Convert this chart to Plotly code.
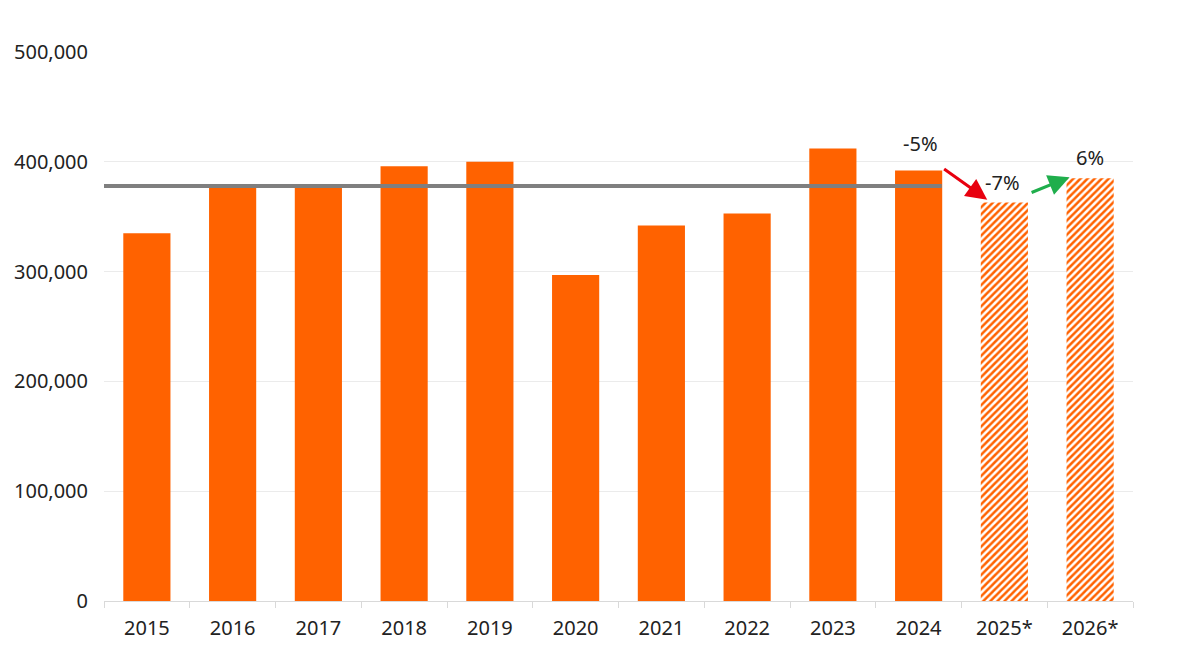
import plotly.graph_objects as go

years = ['2015', '2016', '2017', '2018', '2019', '2020', '2021', '2022',
         '2023', '2024', '2025*', '2026*']
sales = [335000, 378000, 377000, 396000, 400000, 297000, 342000, 353000,
         412000, 392000, 363000, 385000]
forecast = [False] * 10 + [True, True]
average = 378000

ORANGE = '#FF6200'
GREY = '#7F7F7F'
TXT = '#222222'

actual_x = [y for y, f in zip(years, forecast) if not f]
actual_y = [v for v, f in zip(sales, forecast) if not f]
fc_x = [y for y, f in zip(years, forecast) if f]
fc_y = [v for v, f in zip(sales, forecast) if f]

fig = go.Figure()
fig.add_trace(go.Bar(x=actual_x, y=actual_y, marker_color=ORANGE,
                     marker_line_width=0, width=0.55))
fig.add_trace(go.Bar(x=fc_x, y=fc_y, width=0.55,
                     marker=dict(color='white', line_width=0,
                                 pattern=dict(shape='/', fgcolor=ORANGE, bgcolor='white',
                                              size=5, solidity=0.5, fillmode='replace'))))
# long-run average line, runs to the last actual year
fig.add_trace(go.Scatter(x=[-0.5, 9.27], y=[average, average], mode='lines',
                         line=dict(color=GREY, width=4), xaxis='x2'))

# percentage changes
labels = [(9.02, 417000, '-5%'), (9.98, 381000, '-7%'), (11.0, 404000, '6%')]
for x, y, t in labels:
    fig.add_annotation(x=x, y=y, xref='x2', yref='y', text=t, showarrow=False,
                       font=dict(size=20, color=TXT))

arrows = [((9.28, 394500), (9.80, 365500), '#E8000F'),
          ((10.30, 371500), (10.76, 386000), '#1FAE4C')]
for (x0, y0), (x1, y1), c in arrows:
    fig.add_annotation(x=x1, y=y1, ax=x0, ay=y0, xref='x2', yref='y',
                       axref='x2', ayref='y', text='', showarrow=True,
                       arrowhead=2, arrowsize=1.4, arrowwidth=3, arrowcolor=c)

fig.update_layout(
    width=1200, height=662,
    margin=dict(l=96, r=75, t=44, b=69),
    plot_bgcolor='white', paper_bgcolor='white',
    showlegend=False, bargap=0.45,
    font=dict(family='Noto Sans, sans-serif', size=20, color=TXT),
    xaxis=dict(type='category', categoryorder='array', categoryarray=years,
               showgrid=False, showline=True, linecolor='#D9D9D9', linewidth=1,
               ticks='outside', tickson='boundaries', ticklen=6, tickcolor='#D9D9D9',
               ticklabelstandoff=9, automargin=False,
               tickfont=dict(size=20, color=TXT)),
    xaxis2=dict(overlaying='x', range=[-0.5, 11.5], visible=False),
    yaxis=dict(range=[0, 500000], dtick=100000, tickformat=',d',
               showgrid=True, gridcolor='#EBEBEB', gridwidth=1, zeroline=False,
               showline=False, ticks='', ticklabelstandoff=15, automargin=False,
               tickfont=dict(size=20, color=TXT)),
)

fig.write_html('out.html')
